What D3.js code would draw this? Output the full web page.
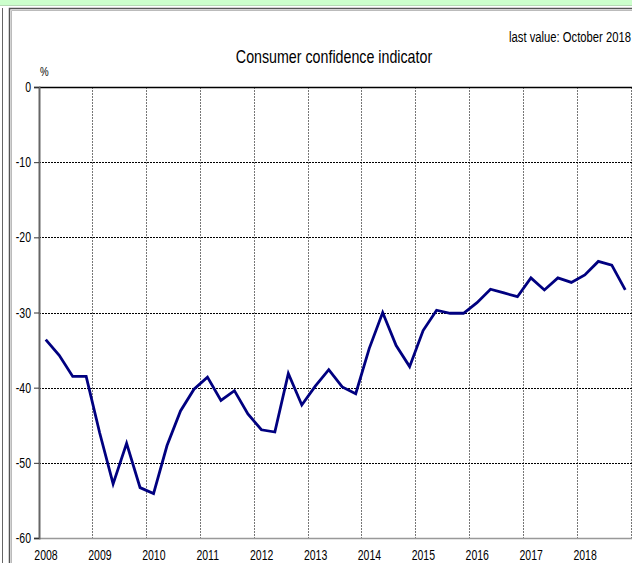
<!DOCTYPE html>
<html>
<head>
<meta charset="utf-8">
<script src="https://cdn.jsdelivr.net/npm/d3@7"></script>
<style>
  body { margin: 0; background: #fff; }
  text { font-family: "Liberation Sans", Arial, sans-serif; fill: #000; }
</style>
</head>
<body>
<div id="chart"></div>
<script>
// Data ------------------------------------------------------------------------------------------------------------
const years = [2008, 2009, 2010, 2011, 2012, 2013, 2014, 2015, 2016, 2017, 2018];
const quarters = [1, 2, 3, 4];
const yTicks = [0, -10, -20, -30, -40, -50, -60];
// quarterly consumer confidence, %, 2008 Q1 .. 2018 Q4 (last value October 2018)
const confidence = [
  -33.6, -35.7, -38.5, -38.5,
  -46.0, -52.8, -47.4, -53.3,
  -54.1, -47.7, -43.1, -40.2,
  -38.6, -41.7, -40.4, -43.5,
  -45.6, -45.9, -38.1, -42.3,
  -39.8, -37.6, -39.9, -40.8,
  -34.8, -30.0, -34.4, -37.2,
  -32.4, -29.7, -30.1, -30.1,
  -28.7, -26.9, -27.4, -27.9,
  -25.4, -27.0, -25.4, -26.0,
  -25.0, -23.2, -23.7, -27.0
];

const series = confidence.map((v, i) => ({
  t: years[0] + Math.floor(i / 4) + (quarters[i % 4] - 0.5) / 4,
  v: v
}));

// Canvas ----------------------------------------------------------------------------------------------------------
const canvasWidth = 632;
const canvasHeight = 563;

const leftPadding = 39;
const rightPadding = 0;
const topPadding = 87;
const bottomPadding = 25;

const narrow = 0.75; // squeeze Liberation Sans to look like a narrow face

const svg = d3.select("#chart")
  .append("svg")
  .attr("width", canvasWidth)
  .attr("height", canvasHeight);

// writes a narrow text with its anchor at (x, y)
const narrowText = function(parent, x, y, str, size, anchor) {
  return parent.append("text")
    .attr("transform", "translate(" + x + "," + y + ") scale(" + narrow + ",1)")
    .style("text-anchor", anchor)
    .style("font-size", size)
    .text(str);
}

// page frame: green strip and the grey boxes
svg.append("rect")
  .attr("x", 0).attr("y", 0)
  .attr("width", canvasWidth).attr("height", 5)
  .attr("fill", "#ccffcc");
svg.append("line")
  .attr("x1", 0).attr("x2", canvasWidth)
  .attr("y1", 5.5).attr("y2", 5.5)
  .style("stroke", "#b5d9b5");
svg.append("line")
  .attr("x1", 2.5).attr("x2", 2.5)
  .attr("y1", 8).attr("y2", canvasHeight)
  .style("stroke", "#666");
svg.append("path")
  .attr("d", "M9.5," + canvasHeight + "V8.5H" + canvasWidth)
  .attr("fill", "none")
  .style("stroke", "#555")
  .style("stroke-width", 1.5);
svg.append("path")
  .attr("d", "M11.5," + canvasHeight + "V10.5H" + canvasWidth)
  .attr("fill", "none")
  .style("stroke", "#bbb");

// Scales ----------------------------------------------------------------------------------------------------------
const xScale = d3.scaleLinear()
  .domain([years[0], years[years.length - 1] + 1])
  .range([leftPadding, canvasWidth - rightPadding]);
const yScale = d3.scaleLinear()
  .domain([-60, 0])
  .range([canvasHeight - bottomPadding, topPadding]);

// Grid ------------------------------------------------------------------------------------------------------------
const yearTicks = years.concat([years[years.length - 1] + 1]);

svg.append("g")
  .selectAll("line")
  .data(yearTicks.slice(1))
  .join("line")
  .attr("x1", d => Math.round(xScale(d)) - 0.5)
  .attr("x2", d => Math.round(xScale(d)) - 0.5)
  .attr("y1", yScale(0))
  .attr("y2", yScale(-60))
  .style("stroke", "#777")
  .style("stroke-width", 1)
  .style("stroke-dasharray", "2,1");

svg.append("g")
  .selectAll("line")
  .data(yTicks.filter(d => d != 0 && d != -60))
  .join("line")
  .attr("x1", leftPadding)
  .attr("x2", canvasWidth)
  .attr("y1", d => Math.round(yScale(d)) + 0.5)
  .attr("y2", d => Math.round(yScale(d)) + 0.5)
  .style("stroke", "#000")
  .style("stroke-width", 1)
  .style("stroke-dasharray", "2,1");

// bottom edge (grey) and top edge (black)
svg.append("line")
  .attr("x1", leftPadding).attr("x2", canvasWidth)
  .attr("y1", yScale(-60) + 0.5).attr("y2", yScale(-60) + 0.5)
  .style("stroke", "#999")
  .style("stroke-width", 1.5);
svg.append("line")
  .attr("x1", leftPadding).attr("x2", canvasWidth)
  .attr("y1", yScale(0) + 0.5).attr("y2", yScale(0) + 0.5)
  .style("stroke", "#000")
  .style("stroke-width", 1.5);

// Axes ------------------------------------------------------------------------------------------------------------
const yAxis = svg.append("g")
  .attr("transform", "translate(" + leftPadding + ", 0)")
  .call(d3.axisLeft(yScale).tickValues(yTicks).tickSize(5).tickFormat(""));
yAxis.select(".domain")
  .style("stroke", "#666")
  .style("stroke-width", 2);
yAxis.selectAll(".tick line")
  .style("stroke", "#333");

const yLabels = svg.append("g");
yTicks.forEach(d => narrowText(yLabels, leftPadding - 8, yScale(d) + 5, String(d), 14, "end"));

const xLabels = svg.append("g");
years.forEach(d => narrowText(xLabels, xScale(d) + 7, canvasHeight - 3, String(d), 14, "middle"));

// Line ------------------------------------------------------------------------------------------------------------
const line = d3.line()
  .x(d => xScale(d.t))
  .y(d => yScale(d.v));

svg.append("path")
  .datum(series)
  .attr("d", line)
  .attr("fill", "none")
  .style("stroke", "#000080")
  .style("stroke-width", 2.8)
  .style("stroke-linejoin", "miter");

// Texts -----------------------------------------------------------------------------------------------------------
narrowText(svg, 334, 63, "Consumer confidence indicator", 19, "middle");
narrowText(svg, 631, 42, "last value: October 2018", 15, "end");
narrowText(svg, 40, 76, "%", 13, "start");
</script>
</body>
</html>
